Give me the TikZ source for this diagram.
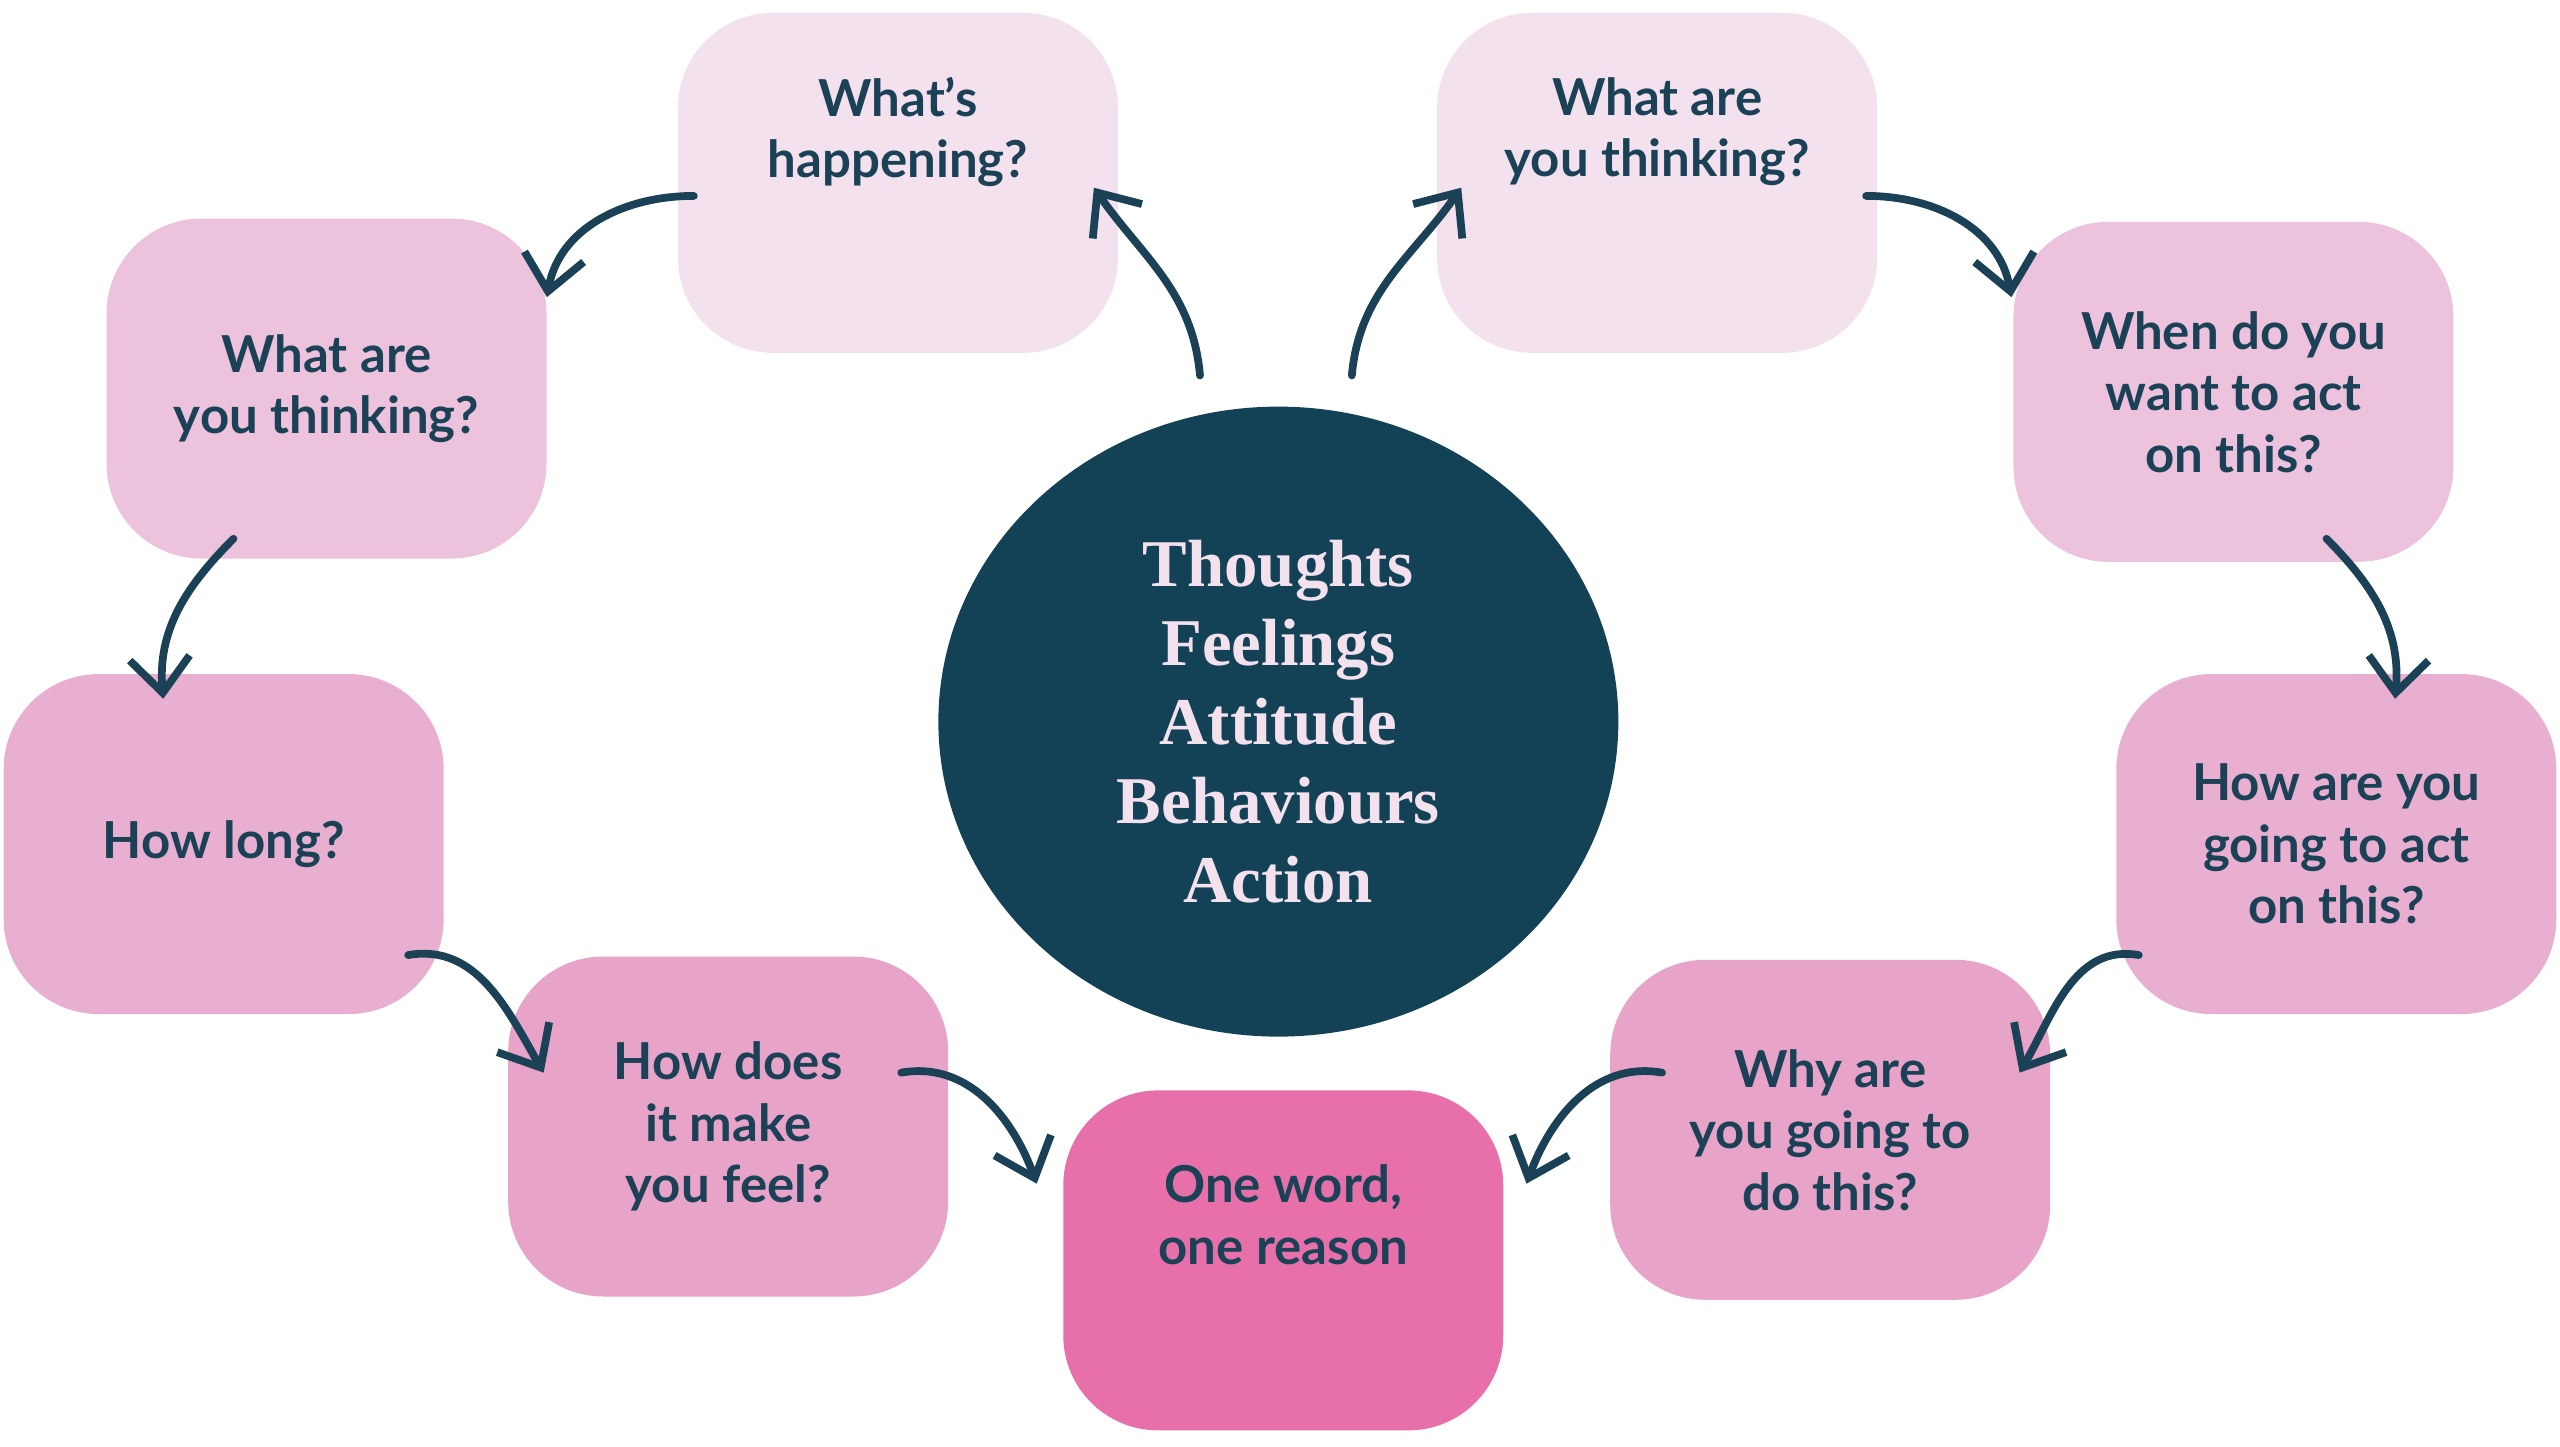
\documentclass[tikz,border=0pt]{standalone}
\usepackage{fontspec}
\setmainfont{Lato}
\newfontfamily\serifbold{Liberation Serif}
\usetikzlibrary{arrows.meta,calc,shapes.geometric}
\definecolor{QInk}{HTML}{1B4156}
\definecolor{QCore}{HTML}{134156}
\definecolor{QPaleA}{HTML}{F3E1EE}
\definecolor{QPaleB}{HTML}{ECC2DC}
\definecolor{QPaleC}{HTML}{E8AFD0}
\definecolor{QPaleD}{HTML}{E8A3C8}
\definecolor{QHot}{HTML}{E870AA}
\tikzset{
    blob/.style = {rectangle, rounded corners=0.95cm,
        minimum width=4.4cm, minimum height=3.4cm,
        align=center, text=QInk, font=\fontsize{14.5}{17.5}\selectfont\bfseries},
    core/.style = {ellipse, minimum width=6.8cm, minimum height=6.3cm, fill=QCore,
        align=center, text=QPaleA, font=\serifbold\fontsize{19}{22.5}\selectfont\bfseries},
    loop/.style = {draw=QInk, line width=2.2pt, line cap=round,
        -{Straight Barb[length=3.5mm,width=6mm,line width=2.2pt]}}
}
\begin{document}
\begin{tikzpicture}[x=0.01633cm,y=-0.01633cm]
    \useasboundingbox (0,0) rectangle (1568,886);
    % question blobs
    \node[blob, fill=QPaleA] (happen) at (550,112) {What’s\\happening?\\[0.5cm]};
    \node[blob, fill=QPaleA] (thinkR) at (1015,112) {What are\\you thinking?\\[0.5cm]};
    \node[blob, fill=QPaleB] (thinkL) at (200,238) {What are\\you thinking?};
    \node[blob, fill=QPaleB] (when) at (1368,240) {When do you\\want to act\\on this?};
    \node[blob, fill=QPaleC] (long) at (137,517) {How long?};
    \node[blob, fill=QPaleC] (how) at (1431,517) {How are you\\going to act\\on this?};
    \node[blob, fill=QPaleD] (feel) at (446,690) {How does\\it make\\you feel?};
    \node[blob, fill=QPaleD] (why) at (1121,692) {Why are\\you going to\\do this?};
    \node[blob, fill=QHot] (word) at (786,772) {One word,\\one reason\\[0.3cm]};
    % centre
    \node[core] (centre) at (783,442) {Thoughts\\Feelings\\Attitude\\Behaviours\\Action};
    % arrow ends
    \coordinate (c1) at (735,230); \coordinate (h1) at (670,115);
    \coordinate (c2) at (828,230); \coordinate (t1) at (895,115);
    \coordinate (h2) at (425,120); \coordinate (l1) at (335,182);
    \coordinate (t2) at (1143,120); \coordinate (w1) at (1232,182);
    \coordinate (l2) at (143,330); \coordinate (g1) at (100,428);
    \coordinate (w2) at (1425,330); \coordinate (o1) at (1467,428);
    \coordinate (g2) at (250,585); \coordinate (f1) at (333,657);
    \coordinate (o2) at (1310,585); \coordinate (y1) at (1237,657);
    \coordinate (f2) at (552,657); \coordinate (d1) at (635,725);
    \coordinate (y2) at (1018,657); \coordinate (d2) at (935,725);
    \draw[loop] (c1) to[out=95,in=-55] (h1);
    \draw[loop] (c2) to[out=85,in=-125] (t1);
    \draw[loop] (h2) to[out=180,in=80] (l1);
    \draw[loop] (t2) to[out=0,in=100] (w1);
    \draw[loop] (l2) to[out=-135,in=95] (g1);
    \draw[loop] (w2) to[out=-45,in=85] (o1);
    \draw[loop] (g2) to[out=10,in=120] (f1);
    \draw[loop] (o2) to[out=170,in=60] (y1);
    \draw[loop] (f2) to[out=10,in=110] (d1);
    \draw[loop] (y2) to[out=170,in=70] (d2);
\end{tikzpicture}
\end{document}
